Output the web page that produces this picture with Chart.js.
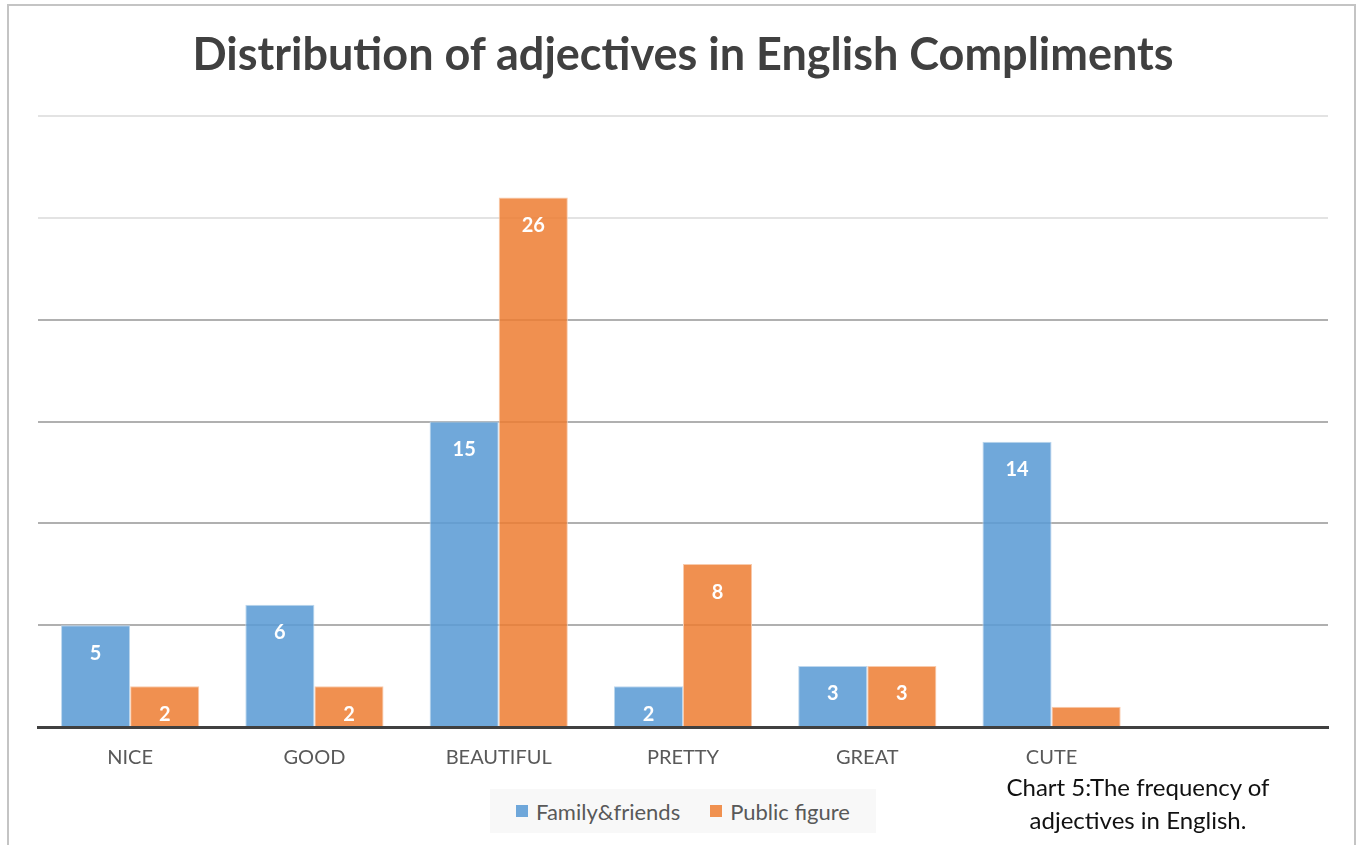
<!DOCTYPE html>
<html>
<head>
<meta charset="utf-8">
<script src="https://cdn.jsdelivr.net/npm/chart.js@4.4.1/dist/chart.umd.min.js"></script>
<style>
    html, body {
        margin: 0;
        padding: 0;
        background: #fff;
        overflow: hidden;
    }
    #frame {
        position: absolute;
        left: 7px;
        top: 4px;
        width: 1349px;
        height: 900px;
        border: 2px solid #c4c4c4;
        box-sizing: border-box;
    }
    #wrap {
        position: absolute;
        left: 0;
        top: 0;
        width: 1361px;
        height: 845px;
    }
    #title {
        position: absolute;
        left: 0;
        width: 1366px;
        top: 26px;
        text-align: center;
        font: bold 45px Lato, sans-serif;
        color: #404040;
    }
    #legend {
        position: absolute;
        left: 490px;
        top: 789px;
        width: 386px;
        height: 44px;
        background: #f8f8f8;
        display: flex;
        align-items: center;
        justify-content: center;
        font: 22px Lato, sans-serif;
        color: #595959;
    }
    #legend span.box {
        display: inline-block;
        width: 12px;
        height: 12px;
        margin-right: 8px;
    }
    #legend .item {
        display: flex;
        align-items: center;
        margin: 0 15px;
    }
    #caption {
        position: absolute;
        left: 968px;
        width: 340px;
        top: 770px;
        text-align: center;
        font: 24px Lato, sans-serif;
        line-height: 33px;
        color: #111;
    }
</style>
</head>
<body>
<div id="frame"></div>
<div id="wrap"><canvas id="myChart"></canvas></div>
<div id="title">Distribution of adjectives in English Compliments</div>
<div id="legend">
    <div class="item"><span class="box" style="background:#6fa7da"></span>Family&amp;friends</div>
    <div class="item"><span class="box" style="background:#f09150"></span>Public figure</div>
</div>
<div id="caption">Chart 5:The frequency of<br>adjectives in English.</div>
<script>
const categories = ['NICE', 'GOOD', 'BEAUTIFUL', 'PRETTY', 'GREAT', 'CUTE', ''];
const familyFriends = [5, 6, 15, 2, 3, 14, null];
const publicFigure = [2, 2, 26, 8, 3, 1, null];
const yTicks = [0, 5, 10, 15, 20, 25, 30];

// white value labels inside the bars
const barLabels = {
    id: 'barLabels',
    afterDatasetsDraw(chart) {
        const ctx = chart.ctx;
        ctx.save();
        ctx.fillStyle = '#ffffff';
        ctx.font = 'bold 20px Lato, sans-serif';
        ctx.textAlign = 'center';
        ctx.textBaseline = 'middle';
        chart.data.datasets.forEach((ds, i) => {
            const meta = chart.getDatasetMeta(i);
            meta.data.forEach((bar, j) => {
                const v = ds.data[j];
                if (v == null || v < 2) return;
                ctx.fillText(v, bar.x, bar.y + 28);
            });
        });
        ctx.restore();
    }
};

const ctx = document.getElementById('myChart').getContext('2d');
const chart = new Chart(ctx, {
    type: 'bar',
    data: {
        labels: categories,
        datasets: [{
            label: 'Family&friends',
            data: familyFriends,
            backgroundColor: 'rgba(91,155,213,0.87)',
            borderColor: 'rgba(189,215,238,1)',
            borderWidth: 1
        }, {
            label: 'Public figure',
            data: publicFigure,
            backgroundColor: 'rgba(237,125,49,0.85)',
            borderColor: 'rgba(248,203,173,1)',
            borderWidth: 1
        }]
    },
    options: {
        responsive: true,
        maintainAspectRatio: false,
        animation: false,
        layout: {
            padding: { left: 38, right: 33, top: 116, bottom: 56 }
        },
        datasets: {
            bar: {
                categoryPercentage: 0.75,
                barPercentage: 1.0
            }
        },
        scales: {
            x: {
                grid: { display: false, drawTicks: false },
                border: { display: true, color: '#404040', width: 3 },
                ticks: {
                    color: '#595959',
                    font: { family: 'Lato, sans-serif', size: 20 },
                    padding: 19
                }
            },
            y: {
                min: 0,
                max: 30,
                afterBuildTicks: (axis) => {
                    axis.ticks = yTicks.map(v => ({ value: v }));
                },
                border: { display: false },
                grid: {
                    drawTicks: false,
                    lineWidth: 2,
                    color: (c) => {
                        const v = c.tick ? c.tick.value : 0;
                        if (v === 0) return 'rgba(0,0,0,0)';
                        return v >= 25 ? '#e3e3e3' : '#b0b0b0';
                    }
                },
                ticks: { display: false }
            }
        },
        plugins: {
            legend: { display: false },
            title: { display: false },
            tooltip: { enabled: false }
        }
    },
    plugins: [barLabels]
});
</script>
</body>
</html>
